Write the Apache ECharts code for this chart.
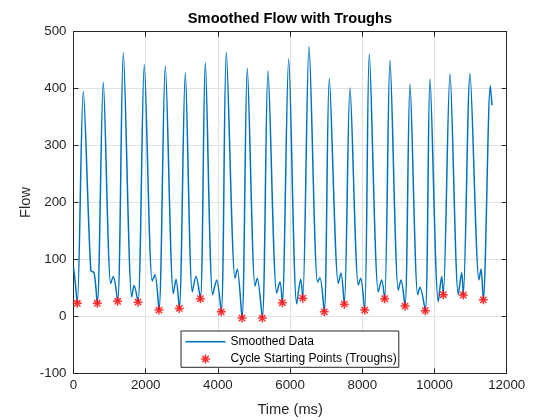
<!DOCTYPE html>
<html>
<head>
<meta charset="utf-8">
<script src="https://cdn.jsdelivr.net/npm/echarts@6/dist/echarts.min.js"></script>
<style>
html,body{margin:0;padding:0;background:#fff;}
#chart{width:560px;height:420px;}
</style>
</head>
<body>
<div id="chart"></div>
<script>
// ---- data ----
const chartTitle = 'Smoothed Flow with Troughs';
const xName = 'Time (ms)';
const yName = 'Flow';
const lineName = 'Smoothed Data';
const troughName = 'Cycle Starting Points (Troughs)';

const xMin = 0, xMax = 12000, xStep = 2000;
const yMin = -100, yMax = 500, yStep = 100;

// beginning of the record
const startT = [0, 42];
const startV = [86, 64];

// troughs (cycle starting points)
const troughT = [105, 659, 1224, 1787, 2368, 2931, 3515, 4094, 4668, 5230, 5784, 6352, 6947, 7501, 8066, 8620, 9183, 9745, 10244, 10798, 11352];
const troughV = [23, 23, 26.5, 25, 11, 14, 31, 8, -3, -3, 24, 32, 8, 21.5, 11, 31, 18, 10, 38, 37.5, 29];

// systolic peaks
const peakT = [271, 825, 1380, 1961, 2543, 3097, 3651, 4233, 4814, 5388, 5961, 6524, 7086, 7659, 8194, 8767, 9321, 9875, 10429, 10983, 11546];
const peakV = [395, 411, 463, 442, 440, 428, 446, 464, 436, 431, 452, 474, 418, 401, 461, 450, 408, 417, 426, 426, 405];

// notch (dip) after each peak
const dipT = [480, 1030, 1612, 2180, 2765, 3291, 3855, 4474, 5028, 5628, 6183, 6760, 7335, 7890, 8443, 8997, 9535, 10105, 10660, 11233];
const dipV = [80, 58, 34, 62, 40, 43, 38, 67, 53, 41, 22, 60, 58, 55, 43, 46, 38, 26, 38, 64];

// small secondary bump before next trough
const bumpT = [570, 1103, 1680, 2258, 2840, 3393, 3966, 4537, 5091, 5720, 6294, 6828, 7410, 7955, 8537, 9072, 9598, 10199, 10753, 11288];
const bumpV = [77, 70, 54, 73, 65, 70, 64, 83, 67, 61, 65, 68, 76, 67, 64, 64, 51, 70, 77, 83];

// end of the record
const endT = [11593];
const endV = [371];

// ---- build series tables ----
const lineData = [];
for (let i = 0; i < startT.length; i++) lineData.push([startT[i], startV[i]]);
for (let i = 0; i < troughT.length; i++) {
  lineData.push([troughT[i], troughV[i]]);
  lineData.push([peakT[i], peakV[i]]);
  if (i < dipT.length) {
    lineData.push([dipT[i], dipV[i]]);
    lineData.push([bumpT[i], bumpV[i]]);
  }
}
for (let i = 0; i < endT.length; i++) lineData.push([endT[i], endV[i]]);

const troughData = troughT.map((t, i) => [t, troughV[i]]);

const FONT = '"Liberation Sans", Arial, Helvetica, sans-serif';
const AX = '#262626';
const BLUE = '#0072BD';
const STAR = 'path://M5,0L5,10M0,5L10,5M1.5,1.5L8.5,8.5M1.5,8.5L8.5,1.5';
const LINE_ICON = 'path://M0,0L40,0L40,1.5L0,1.5Z';

const chart = echarts.init(document.getElementById('chart'), null, {renderer: 'canvas'});

const baseX = {
  type: 'value', min: xMin, max: xMax, interval: xStep,
  axisLine: {show: true, onZero: false, lineStyle: {color: AX, width: 1}},
  axisTick: {show: true, inside: true, length: 5, lineStyle: {color: AX, width: 1}},
  splitLine: {show: false}
};
const baseY = {
  type: 'value', min: yMin, max: yMax, interval: yStep,
  axisLine: {show: true, onZero: false, lineStyle: {color: AX, width: 1}},
  axisTick: {show: true, inside: true, length: 5, lineStyle: {color: AX, width: 1}},
  splitLine: {show: false}
};

chart.setOption({
  animation: false,
  backgroundColor: '#ffffff',
  textStyle: {fontFamily: FONT},
  title: {
    text: chartTitle, left: 290, top: 11, padding: 0,
    textAlign: 'center', textVerticalAlign: 'top',
    textStyle: {fontSize: 14.67, fontWeight: 'bold', color: '#000', fontFamily: FONT}
  },
  grid: {left: 73.5, right: 53.3, top: 31.7, bottom: 46.7, containLabel: false, outerBoundsMode: 'none'},
  legend: {
    orient: 'vertical', left: 181, top: 331,
    padding: [4.7, 2, 2.3, 4.5], itemGap: 5.3, itemWidth: 40, itemHeight: 9,
    borderColor: AX, borderWidth: 1, borderRadius: 0, backgroundColor: '#ffffff',
    selectedMode: false,
    textStyle: {fontSize: 12, color: '#000', fontFamily: FONT},
    data: [
      {name: lineName, icon: LINE_ICON, itemStyle: {color: BLUE, borderWidth: 0}},
      {name: troughName, itemStyle: {color: '#ff0000', borderColor: '#ff0000', borderWidth: 1.5}}
    ]
  },
  xAxis: [
    Object.assign({}, baseX, {
      position: 'bottom',
      axisLabel: {show: true, color: AX, fontSize: 13.33, fontFamily: FONT, margin: 6,
        showMinLabel: true, showMaxLabel: true, formatter: v => String(v)},
      splitLine: {show: true, lineStyle: {color: '#e1e1e1', width: 1}},
      name: xName, nameLocation: 'middle', nameGap: 29, nameMoveOverlap: false,
      nameTextStyle: {fontSize: 14.67, color: AX, fontFamily: FONT}
    }),
    Object.assign({}, baseX, {position: 'top', axisLabel: {show: false}})
  ],
  yAxis: [
    Object.assign({}, baseY, {
      position: 'left',
      axisLabel: {show: true, color: AX, fontSize: 13.33, fontFamily: FONT, margin: 7,
        showMinLabel: true, showMaxLabel: true, formatter: v => String(v)},
      splitLine: {show: true, lineStyle: {color: '#e1e1e1', width: 1}},
      name: yName, nameLocation: 'middle', nameGap: 40, nameMoveOverlap: false,
      nameTextStyle: {fontSize: 14.67, color: AX, fontFamily: FONT}
    }),
    Object.assign({}, baseY, {position: 'right', axisLabel: {show: false}})
  ],
  series: [
    {
      type: 'line', name: lineName, data: lineData,
      xAxisIndex: 0, yAxisIndex: 0,
      symbol: 'none', showSymbol: false, smooth: 0.3,
      lineStyle: {color: BLUE, width: 1.5},
      itemStyle: {color: BLUE},
      z: 2
    },
    {
      type: 'scatter', name: troughName, data: troughData,
      xAxisIndex: 0, yAxisIndex: 0,
      symbol: STAR, symbolSize: 9,
      itemStyle: {color: '#ff0000', borderColor: '#ff0000', borderWidth: 1.5},
      z: 3
    }
  ]
});
</script>
</body>
</html>
